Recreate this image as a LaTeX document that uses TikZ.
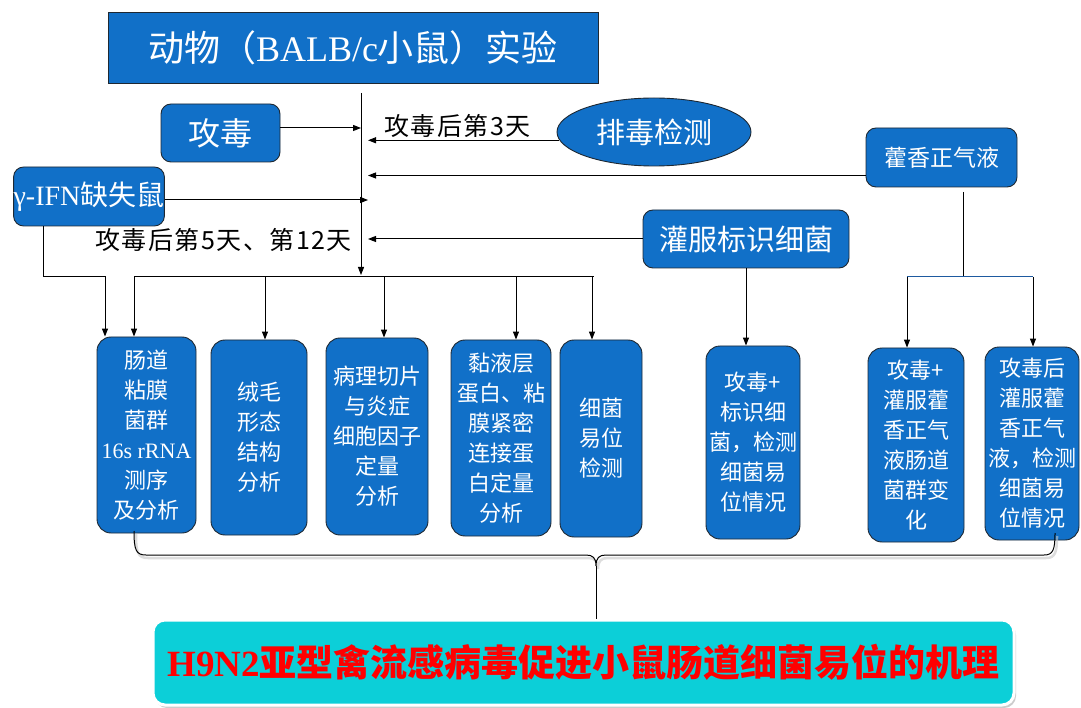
\documentclass[tikz,border=0pt]{standalone}
\usepackage{fontspec}
\setmainfont{Liberation Serif}
\newfontfamily\cjk{Noto Sans CJK SC}
\newfontfamily\cjksp{Noto Sans CJK SC}[LetterSpace=6.0]
\usetikzlibrary{arrows.meta,shapes.geometric,shadows,calc}
\definecolor{boxblue}{RGB}{17,112,200}
\definecolor{edge}{RGB}{30,40,50}
\definecolor{cyanbox}{RGB}{12,207,216}
\definecolor{splitblue}{RGB}{30,90,160}
\newcommand\fsz[2]{\fontsize{#1}{#2}\selectfont}
\newcommand\bracepath{(134,531) .. controls (134,550) and (136,555) .. (146,555) -- (586,555) .. controls (593,555) and (596,558) .. (596,566) .. controls (596,558) and (599,555) .. (606,555) -- (1044,555) .. controls (1053,555) and (1055,550) .. (1055,533)}
\begin{document}
\begin{tikzpicture}[x=1pt,y=-1pt,
  bluebox/.style={fill=boxblue, draw=edge, line width=0.9pt, text=white, inner sep=0pt, align=center},
  rbox/.style={bluebox, rounded corners=10pt},
  tall/.style={bluebox, rounded corners=14pt, font=\cjk\fsz{22}{30}},
  arr/.style={-{Triangle[length=8pt,width=6pt]}, line width=1pt},
  conn/.style={line width=1pt},
  lbl/.style={font=\cjksp\fsz{25}{30}, inner sep=0pt, text=black},
]
\useasboundingbox (0,0) rectangle (1081,708);

% top nodes
\node[bluebox, minimum width=490pt, minimum height=71pt, font=\fsz{36}{40}] (title) at (353,48) {{\cjk 动物（}BALB/c{\cjk 小鼠）实验}};
\node[rbox, minimum width=119pt, minimum height=58pt, font=\cjk\fsz{32}{36}] (gongdu) at (220.5,133) {攻毒};
\node[rbox, minimum width=150pt, minimum height=59pt, font=\fsz{28}{30}] (ifn) at (89,196.5) {γ-IFN{\cjk 缺失鼠}};
\node[ellipse, fill=boxblue, draw=edge, line width=0.9pt, text=white, minimum width=194pt, minimum height=68pt, inner sep=0pt, font=\cjk\fsz{29}{32}] (paidu) at (654,132) {排毒检测};
\node[rbox, minimum width=151pt, minimum height=59pt, font=\cjk\fsz{23}{26}] (huoxiang) at (941.5,157.5) {藿香正气液};
\node[rbox, minimum width=206pt, minimum height=58pt, font=\cjk\fsz{29}{32}] (guanfu) at (746,239) {灌服标识细菌};

\node[lbl, anchor=west] (t3) at (384,126) {攻毒后第3天};
\node[lbl, anchor=east] (t512) at (352,240) {攻毒后第5天、第12天};

% tall boxes
\node[tall, minimum width=99pt, minimum height=196pt] (b1) at (146.5,435) {肠道\\粘膜\\菌群\\{\rmfamily 16s rRNA}\\测序\\及分析};
\node[tall, minimum width=96pt, minimum height=195pt] (b2) at (259,437.5) {绒毛\\形态\\结构\\分析};
\node[tall, minimum width=102pt, minimum height=197pt] (b3) at (377,436.5) {病理切片\\与炎症\\细胞因子\\定量\\分析};
\node[tall, minimum width=100pt, minimum height=196pt] (b4) at (501,438) {黏液层\\蛋白、粘\\膜紧密\\连接蛋\\白定量\\分析};
\node[tall, minimum width=82pt, minimum height=197pt] (b5) at (601,438.5) {细菌\\易位\\检测};
\node[tall, minimum width=94pt, minimum height=193pt] (b6) at (753,442.5) {攻毒+\\标识细\\菌，检测\\细菌易\\位情况};
\node[tall, minimum width=96pt, minimum height=194pt] (b7) at (916,445) {攻毒+\\灌服藿\\香正气\\液肠道\\菌群变\\化};
\node[tall, minimum width=94pt, minimum height=193pt] (b8) at (1032,443.5) {攻毒后\\灌服藿\\香正气\\液，检测\\细菌易\\位情况};

% result
\node[fill=cyanbox, draw=white, line width=3pt, rounded corners=12pt, drop shadow={opacity=0.4, shadow xshift=2pt, shadow yshift=-3pt}, minimum width=861pt, minimum height=85pt, inner sep=0pt, text=red, font=\bfseries\fsz{37}{40}] (result) at (583.5,662.5) {H9N2{\cjk 亚型禽流感病毒促进小鼠肠道细菌易位的机理}};

% spine
\coordinate (sTop) at (361,93);
\coordinate (sBot) at (361,275);
\coordinate (sR) at (368,0);
\draw[arr] (sTop) -- (sBot);

\coordinate (g1) at ([yshift=5pt]gongdu.east);
\draw[arr] (g1) -- (g1 -| sTop);
\draw[arr] (paidu.185) -- (paidu.185 -| sR);
\coordinate (h1) at ([yshift=-18pt]huoxiang.west);
\draw[arr] (h1) -- (h1 -| sR);
\coordinate (i1) at ([yshift=-3.5pt]ifn.east);
\draw[arr] (i1) -- (i1 -| sR);
\draw[arr] (guanfu.west) -- (guanfu.west -| sR);

% distribution line
\coordinate (hL) at (134,277);
\coordinate (hR) at (594,277);
\draw[conn] (hL) -- (hR);
\coordinate (d2) at (265,277);
\coordinate (d3) at (384,277);
\coordinate (d4) at (516,277);
\coordinate (d5) at (592,277);
\draw[arr] (hL) -- (hL |- b1.north);
\draw[arr] (d2) -- (d2 |- b2.north);
\draw[arr] (d3) -- (d3 |- b3.north);
\draw[arr] (d4) -- (d4 |- b4.north);
\draw[arr] (d5) -- (d5 |- b5.north);

% gamma-IFN branch
\coordinate (q1) at (43,0);
\coordinate (q2) at (105,277);
\draw[arr] (ifn.south -| q1) |- (q2) -- (q2 |- b1.north);

% guanfu branch
\draw[arr] (guanfu.south) -- (guanfu.south |- b6.north);

% huoxiang branch
\coordinate (hx) at (963,192);
\coordinate (hs) at (963,277);
\coordinate (sL) at (907,277);
\coordinate (sRR) at (1033,277);
\draw[conn] (hx) -- (hs);
\draw[conn, splitblue] (sL) -- (sRR);
\draw[arr] (sL) -- (sL |- b7.north);
\draw[arr] (sRR) -- (sRR |- b8.north);

% brace
\begin{scope}[shift={(2,3)}]
\draw[gray!45, line width=2.5pt, opacity=0.6] \bracepath;
\end{scope}
\draw[conn] \bracepath;
\coordinate (brC) at (596,566);
\draw[conn] (brC) -- (brC |- result.north);
\end{tikzpicture}
\end{document}
